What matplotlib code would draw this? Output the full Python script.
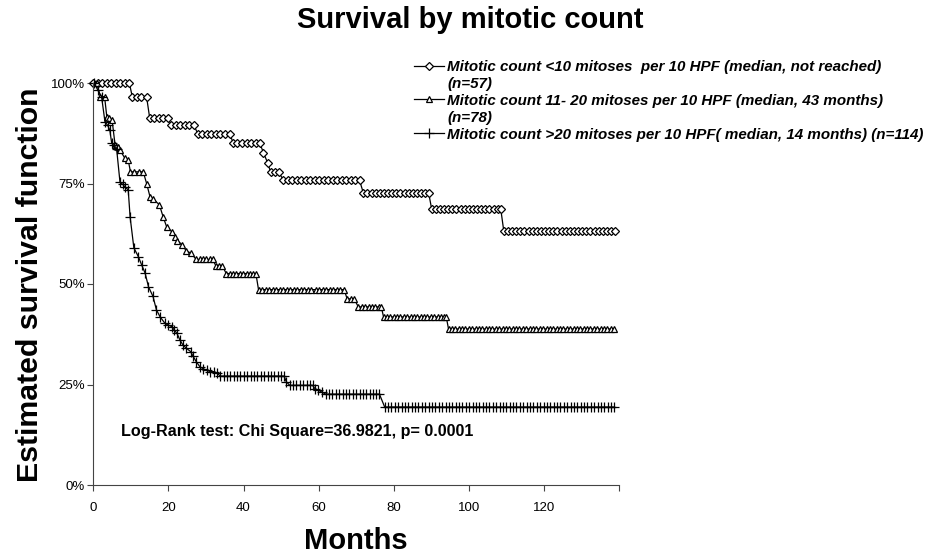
import matplotlib
matplotlib.use("Agg")
import matplotlib.pyplot as plt
from matplotlib.lines import Line2D

plt.rcParams["font.family"] = ["Liberation Sans", "DejaVu Sans"]

# survival levels (fraction) and the months of the patient marks on each level
lt10_levels = [1.0, 0.965, 0.914, 0.895, 0.874, 0.851, 0.827, 0.802, 0.779,
               0.758, 0.727, 0.687, 0.633]
lt10_months = [
    [0, 1.2, 2.4, 3.6, 4.8, 6.0, 7.2, 8.4, 9.6],
    [10.4, 11.6, 12.8, 14.2],
    [15.0, 16.2, 17.4, 18.6, 19.8],
    [20.8, 22.0, 23.2, 24.4, 25.6, 26.8],
    [27.8, 29.0, 30.2, 31.4, 32.6, 33.8, 35.0, 36.4],
    [37.2, 38.4, 39.6, 40.8, 42.0, 43.2, 44.3],
    [45.3],
    [46.4],
    [47.2, 48.3, 49.4],
    [50.6, 51.8, 53.0, 54.2, 55.4, 56.6, 57.8, 59.0, 60.2, 61.4, 62.6,
     63.8, 65.0, 66.2, 67.4, 68.6, 69.8, 70.9],
    [71.9, 73.0, 74.1, 75.2, 76.3, 77.4, 78.5, 79.6, 80.7, 81.8, 82.9,
     84.0, 85.1, 86.2, 87.3, 88.4, 89.3],
    [90.1, 91.2, 92.3, 93.4, 94.5, 95.6, 96.7, 97.8, 98.9, 100.0, 101.1,
     102.2, 103.3, 104.4, 105.5, 106.6, 107.7, 108.5],
    [109.3, 110.4, 111.5, 112.6, 113.7, 114.8, 115.9, 117.0, 118.1, 119.2,
     120.3, 121.4, 122.5, 123.6, 124.7, 125.8, 126.9, 128.0, 129.1, 130.2,
     131.3, 132.4, 133.5, 134.6, 135.7, 136.8, 137.9, 139.0],
]

mid_levels = [1.0, 0.966, 0.916, 0.912, 0.908, 0.846, 0.840, 0.833, 0.813,
              0.808, 0.779, 0.750, 0.717, 0.711, 0.697, 0.667, 0.643, 0.630,
              0.618, 0.608, 0.598, 0.582, 0.577, 0.561, 0.546, 0.526, 0.486,
              0.463, 0.443, 0.418, 0.388]
mid_months = [
    [0.9], [1.9, 3.0], [3.6], [4.3], [5.0], [5.8], [6.5], [7.1], [8.4],
    [9.3], [9.9, 10.9, 12.1, 13.3], [14.2], [15.1], [16.0], [17.6], [18.6],
    [19.5], [20.9], [21.7], [22.4], [23.6], [24.8], [26.0],
    [27.4, 28.3, 29.2, 30.1, 31.0, 31.8],
    [32.6, 33.4, 34.3],
    [35.4, 36.3, 37.2, 38.1, 39.0, 39.9, 40.8, 41.7, 42.6, 43.3],
    [44.0, 44.8, 45.9, 46.7, 47.8, 48.6, 49.7, 50.5, 51.6, 52.4, 53.5,
     54.3, 55.4, 56.2, 57.3, 58.1, 59.2, 60.0, 61.1, 61.9, 63.0, 63.8,
     64.9, 65.7, 66.8],
    [67.6, 68.5, 69.4],
    [70.6, 71.5, 72.4, 73.3, 74.2, 75.1, 76.0, 76.7],
    [77.3, 78.2, 79.1, 80.0, 80.9, 81.8, 82.7, 83.6, 84.5, 85.4, 86.3,
     87.2, 88.1, 89.0, 89.9, 90.8, 91.7, 92.6, 93.5, 94.0],
    [94.6, 95.5, 96.4, 97.3, 98.2, 99.1, 100.0, 100.9, 101.8, 102.7, 103.6,
     104.5, 105.4, 106.3, 107.2, 108.1, 109.0, 109.9, 110.8, 111.7, 112.6,
     113.5, 114.4, 115.3, 116.2, 117.1, 118.0, 118.9, 119.8, 120.7, 121.6,
     122.5, 123.4, 124.3, 125.2, 126.1, 127.0, 127.9, 128.8, 129.7, 130.6,
     131.5, 132.4, 133.3, 134.2, 135.1, 136.0, 136.9, 137.8, 138.7],
]

gt20_levels = [1.0, 0.982, 0.966, 0.904, 0.895, 0.883, 0.850, 0.845, 0.837,
               0.754, 0.748, 0.742, 0.734, 0.667, 0.590, 0.568, 0.547, 0.527,
               0.493, 0.469, 0.436, 0.418, 0.402, 0.398, 0.394, 0.385, 0.377,
               0.360, 0.348, 0.340, 0.332, 0.320, 0.307, 0.294, 0.289, 0.285,
               0.282, 0.278, 0.271, 0.257, 0.248, 0.240, 0.236, 0.231, 0.226,
               0.194]
gt20_months = [
    [0.3], [1.2], [2.2], [3.1], [3.8], [4.4], [4.9], [5.5], [6.2], [7.1],
    [7.8], [8.4], [9.3], [9.8], [10.8], [12.0], [12.9], [13.8], [14.7],
    [15.9], [16.8], [17.8], [19.1], [19.9], [20.9], [21.6], [22.3], [23.1],
    [23.9], [24.8], [25.9], [26.6], [27.4], [28.4], [29.3], [30.2],
    [31.2, 32.2], [33.0],
    [33.8, 34.7, 35.6, 36.5, 37.4, 38.3, 39.2, 40.1, 41.0, 41.9, 42.8,
     43.7, 44.6, 45.5, 46.4, 47.3, 48.2, 49.1, 50.0, 50.8],
    [51.4],
    [52.3, 53.2, 54.1, 55.0, 55.9, 56.8, 57.7, 58.4],
    [59.0], [59.9], [60.9],
    [61.9, 62.8, 63.7, 64.6, 65.5, 66.4, 67.3, 68.2, 69.1, 70.0, 70.9,
     71.8, 72.7, 73.6, 74.5, 75.4, 76.2],
    [77.6, 78.5, 79.4, 80.3, 81.2, 82.1, 83.0, 83.9, 84.8, 85.7, 86.6,
     87.5, 88.4, 89.3, 90.2, 91.1, 92.0, 92.9, 93.8, 94.7, 95.6, 96.5,
     97.4, 98.3, 99.2, 100.1, 101.0, 101.9, 102.8, 103.7, 104.6, 105.5,
     106.4, 107.3, 108.2, 109.1, 110.0, 110.9, 111.8, 112.7, 113.6, 114.5,
     115.4, 116.3, 117.2, 118.1, 119.0, 119.9, 120.8, 121.7, 122.6, 123.5,
     124.4, 125.3, 126.2, 127.1, 128.0, 128.9, 129.8, 130.7, 131.6, 132.5,
     133.4, 134.3, 135.2, 136.1, 137.0, 137.9, 138.8],
]

labels = [
    "Mitotic count <10 mitoses  per 10 HPF (median, not reached)",
    "(n=57)",
    "Mitotic count 11- 20 mitoses per 10 HPF (median, 43 months)",
    "(n=78)",
    "Mitotic count >20 mitoses per 10 HPF( median, 14 months) (n=114)",
]
x_ticks = [0, 20, 40, 60, 80, 100, 120, 140]
x_tick_labels = ["0", "20", "40", "60", "80", "100", "120", ""]
y_ticks = [0, 0.25, 0.5, 0.75, 1.0]
y_tick_labels = ["0%", "25%", "50%", "75%", "100%"]


def flatten(levels, months):
    xs, ys = [], []
    for level, times in zip(levels, months):
        for t in times:
            xs.append(t)
            ys.append(level)
    return xs, ys


fig = plt.figure(figsize=(9.25, 5.6), dpi=100)
ax = fig.add_axes([93.3 / 925, 75 / 560, 525.7 / 925, 402 / 560])

styles = [
    dict(marker="D", markersize=4.4, markerfacecolor="white"),
    dict(marker="^", markersize=5, markerfacecolor="white"),
    dict(marker="+", markersize=7),
]
handles = []
for (levels, months), st in zip(
    [(lt10_levels, lt10_months), (mid_levels, mid_months), (gt20_levels, gt20_months)],
    styles,
):
    xs, ys = flatten(levels, months)
    (ln,) = ax.plot(xs, ys, color="black", linewidth=0.9, markeredgecolor="black",
                    markeredgewidth=0.9, clip_on=False, **st)
    handles.append(ln)

blank = Line2D([], [], linestyle="none")
ax.legend([handles[0], blank, handles[1], blank, handles[2]], labels,
          loc="upper left", bbox_to_anchor=(414 / 925, 1 - 60 / 560),
          bbox_transform=fig.transFigure, frameon=False, borderpad=0,
          borderaxespad=0, handlelength=2.0, handletextpad=0.2,
          labelspacing=0.19,
          prop=dict(family="Liberation Sans", style="italic", weight="bold", size=10.9))

ax.set_xlim(0, 140)
ax.set_ylim(0, 1.0)
ax.set_xticks(x_ticks)
ax.set_xticklabels(x_tick_labels, fontsize=9.5)
ax.set_yticks(y_ticks)
ax.set_yticklabels(y_tick_labels, fontsize=9.5)
ax.tick_params(axis="x", direction="out", length=4, width=0.8, pad=8,
               color="#444444")
ax.tick_params(axis="y", direction="out", length=4, width=0.8, pad=2,
               color="#444444")
for side in ["top", "right"]:
    ax.spines[side].set_visible(False)
for side in ["left", "bottom"]:
    ax.spines[side].set_linewidth(0.8)
    ax.spines[side].set_color("#444444")

ax.text(7.4, 0.132, "Log-Rank test: Chi Square=36.9821, p= 0.0001",
        fontsize=11.6, fontweight="bold", va="center", ha="left")

fig.text(470 / 925, 1 - 20 / 560, "Survival by mitotic count",
         fontsize=21, fontweight="bold", ha="center", va="center")
fig.text(356 / 925, 1 - 541 / 560, "Months", fontsize=21, fontweight="bold",
         ha="center", va="center")
fig.text(30 / 925, 1 - 285 / 560, "Estimated survival function", fontsize=21.8,
         fontweight="bold", ha="center", va="center", rotation=90)

fig.savefig("out.png", dpi=100)
